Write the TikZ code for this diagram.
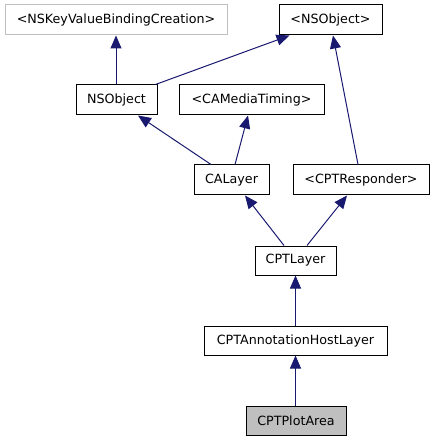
\documentclass[tikz,border=0pt]{standalone}
\usepackage{fontspec}
\setmainfont{DejaVu Sans}
\usetikzlibrary{arrows.meta}
\definecolor{edgeblue}{RGB}{25,25,112}
\definecolor{plotgray}{RGB}{191,191,191}
\definecolor{graybord}{RGB}{191,191,191}
\begin{document}
\begin{tikzpicture}[x=1pt,y=-1pt,
  box/.style={draw=black,line width=1pt,fill=white,inner sep=0pt,minimum height=30pt,font=\fontsize{12.7}{14}\selectfont},
  arr/.style={draw=edgeblue,line width=1pt,-{Triangle[length=13pt,width=11pt]}}]
\useasboundingbox (0,0) rectangle (435,443);
\node[box,draw=graybord,minimum width=222pt] (kvb) at (116,20) {<NSKeyValueBindingCreation>};
\node[box,minimum width=103pt] (nso) at (330.5,20) {<NSObject>};
\node[box,minimum width=81pt] (nsobj) at (116.5,100) {NSObject};
\node[box,minimum width=145pt] (camt) at (251.5,100) {<CAMediaTiming>};
\node[box,minimum width=75pt] (calayer) at (231.5,180) {CALayer};
\node[box,minimum width=136pt] (resp) at (361,180) {<CPTResponder>};
\node[box,minimum width=81pt,minimum height=29pt] (cptlayer) at (295.5,260.5) {CPTLayer};
\node[box,minimum width=183pt,minimum height=29pt] (host) at (295.5,340.5) {CPTAnnotationHostLayer};
\node[box,fill=plotgray,minimum width=100pt,minimum height=29pt] (plot) at (296,420.5) {CPTPlotArea};
\draw[arr] ([xshift=-0.5pt]nsobj.north) -- (kvb.south);
\draw[arr] ([xshift=-2pt]nsobj.north east) -- ([xshift=11pt]nso.south west);
\draw[arr] ([xshift=-3pt]resp.north) -- ([xshift=2.5pt]nso.south);
\draw[arr] ([xshift=-20.5pt]calayer.north) -- ([xshift=21.5pt]nsobj.south);
\draw[arr] ([xshift=3.5pt]calayer.north) -- ([xshift=-3.5pt]camt.south);
\draw[arr] ([xshift=-11.5pt]cptlayer.north) -- ([xshift=13.5pt]calayer.south);
\draw[arr] ([xshift=11.5pt]cptlayer.north) -- ([xshift=-14pt]resp.south);
\draw[arr] (host.north) -- (cptlayer.south);
\draw[arr] ([xshift=-0.5pt]plot.north) -- (host.south);
\end{tikzpicture}
\end{document}
